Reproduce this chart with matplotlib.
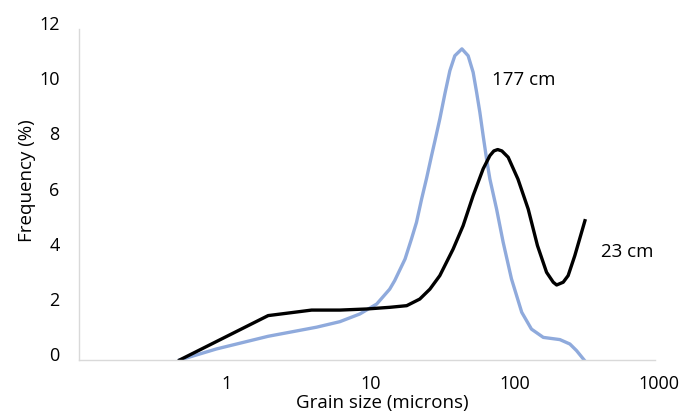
import matplotlib
matplotlib.use("Agg")
import matplotlib.pyplot as plt
import matplotlib.transforms as mtransforms

# grain size (microns) and frequency (%)
x_177 = [0.50, 0.90, 2.06, 4.47, 6.49, 8.94, 11.7, 14.4, 15.6, 18.4, 20.4,
         22.1, 24.0, 26.0, 28.1, 29.7, 32.1, 34.8, 37.7, 40.8, 45.7, 50.5,
         54.7, 57.8, 60.9, 64.2, 67.8, 71.5, 79.6, 88.4, 101, 119, 139, 168,
         219, 257, 286, 323]
y_177 = [0.0, 0.40, 0.86, 1.19, 1.39, 1.67, 2.03, 2.57, 2.88, 3.66, 4.39,
         4.99, 5.84, 6.60, 7.40, 7.95, 8.74, 9.65, 10.49, 11.03, 11.28, 11.03,
         10.43, 9.71, 8.98, 8.13, 7.29, 6.56, 5.47, 4.27, 2.94, 1.73, 1.12, 0.82,
         0.74, 0.58, 0.34, 0.0]

x_23 = [0.50, 2.06, 4.13, 6.49, 9.95, 14.4, 18.9, 23.3, 27.4, 32.1, 39.7,
        46.6, 54.7, 64.2, 71.5, 76.2, 81.0, 86.6, 95.8, 112, 132, 153, 177,
        197, 208, 231, 250, 278, 327]
y_23 = [0.0, 1.61, 1.81, 1.81, 1.85, 1.91, 1.97, 2.21, 2.57, 3.06, 4.02,
        4.87, 5.96, 6.93, 7.41, 7.58, 7.63, 7.58, 7.35, 6.56, 5.47, 4.15, 3.18,
        2.82, 2.72, 2.82, 3.06, 3.78, 5.05]

x_ticks = [1, 10, 100, 1000]
y_ticks = [0, 2, 4, 6, 8, 10, 12]

plt.rcParams["font.family"] = ["Open Sans", "DejaVu Sans"]

fig = plt.figure(figsize=(6.9, 4.14), dpi=100)
ax = fig.add_axes([0.1145, 0.128, 0.8345, 0.7995])

ax.plot(x_177, y_177, color="#8FAADC", lw=2.4, solid_joinstyle="round")
ax.plot(x_23, y_23, color="black", lw=2.4, solid_joinstyle="round")

ax.set_xscale("log")
ax.set_xlim(0.1, 1000)
ax.set_ylim(0, 12)
ax.set_xticks(x_ticks)
ax.set_xticklabels([str(t) for t in x_ticks])
ax.set_yticks(y_ticks)
ax.set_yticklabels([str(t) for t in y_ticks])
ax.minorticks_off()
ax.tick_params(length=0, labelsize=13, colors="black")
ax.tick_params(axis="y", pad=14)
ax.tick_params(axis="x", pad=10)

# shift tick labels like the reference
for lab in ax.get_yticklabels():
    lab.set_transform(lab.get_transform() + mtransforms.ScaledTranslation(0, 7 / 100, fig.dpi_scale_trans))
for lab in ax.get_xticklabels():
    lab.set_transform(lab.get_transform() + mtransforms.ScaledTranslation(4 / 100, 0, fig.dpi_scale_trans))

for side in ("top", "right"):
    ax.spines[side].set_visible(False)
for side in ("left", "bottom"):
    ax.spines[side].set_color("#D9D9D9")
    ax.spines[side].set_linewidth(1.0)

ax.set_xlabel("Grain size (microns)", fontsize=13.5)
ax.xaxis.set_label_coords(0.526, -0.100)
ax.set_ylabel("Frequency (%)", fontsize=13.5)
ax.yaxis.set_label_coords(-0.074, 0.544)

ax.text(524 / 690, 1 - 80 / 414, "177 cm", transform=fig.transFigure,
        ha="center", va="center", fontsize=13.5)
ax.text(627 / 690, 1 - 252 / 414, "23 cm", transform=fig.transFigure,
        ha="center", va="center", fontsize=13.5)

fig.savefig("out.png", dpi=100)
